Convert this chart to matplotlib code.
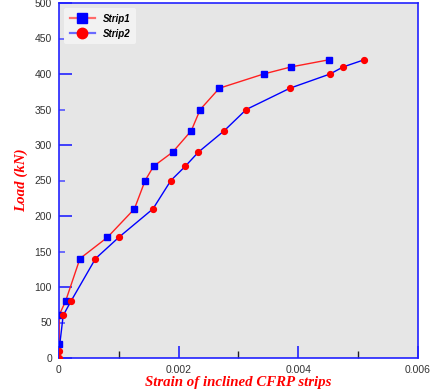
import matplotlib
matplotlib.use("Agg")
import matplotlib.pyplot as plt
from matplotlib.ticker import MultipleLocator, FixedLocator
from matplotlib.lines import Line2D

# Load vs. strain readings for the two inclined CFRP strips
strip1_strain = [0.0, 0.0, 0.00011, 0.00035, 0.00081, 0.00126, 0.00144, 0.00158,
                 0.00190, 0.00221, 0.00236, 0.00268, 0.00342, 0.00388, 0.00451]
strip1_load = [20, 60, 80, 140, 170, 210, 250, 270, 290, 320, 350, 380, 400, 410, 420]

strip2_strain = [0.0, 0.0, 0.00007, 0.00020, 0.00061, 0.00100, 0.00157, 0.00187,
                 0.00211, 0.00233, 0.00276, 0.00313, 0.00386, 0.00453, 0.00475, 0.00510]
strip2_load = [0, 10, 60, 80, 140, 170, 210, 250, 270, 290, 320, 350, 380, 400, 410, 420]

x_major = [0, 0.002, 0.004, 0.006]
x_major_labels = ["0", "0.002", "0.004", "0.006"]
x_minor = [0.001, 0.003, 0.005]

fig = plt.figure(figsize=(4.35, 3.91), dpi=100)
ax = fig.add_axes([59 / 435, 1 - 358 / 391, (418 - 59) / 435, (358 - 3) / 391])
ax.set_facecolor("#e6e6e6")

ax.plot(strip1_strain, strip1_load, color="#ff2020", lw=1.0, marker="s", ms=4.2,
        mfc="#0000ff", mec="#0000ff", zorder=3)
ax.plot(strip2_strain, strip2_load, color="#0000ff", lw=1.0, marker="o", ms=4.2,
        mfc="#ff0000", mec="#ff0000", zorder=4)

ax.set_xlim(0, 0.006)
ax.set_ylim(0, 500)

for s in ax.spines.values():
    s.set_color("#2222ff")
    s.set_linewidth(1.2)

ax.xaxis.set_major_locator(FixedLocator(x_major))
ax.set_xticklabels(x_major_labels)
ax.xaxis.set_minor_locator(FixedLocator(x_minor))
ax.yaxis.set_major_locator(MultipleLocator(100))
ax.yaxis.set_minor_locator(MultipleLocator(50))

ax.tick_params(axis="both", which="major", direction="in", length=9, width=1.2,
               color="#2222ff", labelsize=7.5, labelcolor="#333333", pad=5)
ax.tick_params(axis="x", which="minor", direction="in", length=5, width=1.0,
               color="#222222")
ax.tick_params(axis="y", which="minor", direction="in", length=4.5, width=1.2,
               color="#5555ff")
ax.tick_params(axis="y", which="minor", labelleft=True, labelsize=7.5,
               labelcolor="#333333", pad=5)
ax.yaxis.set_minor_formatter(plt.FuncFormatter(lambda v, p: f"{int(v)}"))
for lbl in ax.get_xticklabels() + ax.get_yticklabels() + ax.get_yticklabels(minor=True):
    lbl.set_fontfamily("Liberation Sans")

label_font = dict(family="Liberation Serif", style="italic", weight="bold",
                  color="#ff0000", size=10.7)
ax.set_xlabel("Strain of inclined CFRP strips", labelpad=1, **label_font)
ax.set_ylabel("Load (kN)", labelpad=5, **label_font)

# Legend handles: lighter lines with solid markers
handles = [
    Line2D([], [], color="#ff6a6a", lw=1.6, marker="s", ms=7.5,
           mfc="#0000ff", mec="#0000ff"),
    Line2D([], [], color="#6a6aff", lw=1.6, marker="o", ms=7.5,
           mfc="#ff0000", mec="#ff0000"),
]
leg = ax.legend(handles, ["Strip1", "Strip2"], loc="upper left", handlelength=2.6,
                prop=dict(family="Liberation Sans", style="italic", weight="bold", size=7),
                frameon=True, fancybox=True, borderpad=0.6, labelspacing=0.5,
                handletextpad=0.8, borderaxespad=0.5)
leg.get_frame().set_facecolor("#f2f2f2")
leg.get_frame().set_edgecolor("none")
leg.get_frame().set_alpha(1.0)

fig.savefig("out.png", dpi=100)
